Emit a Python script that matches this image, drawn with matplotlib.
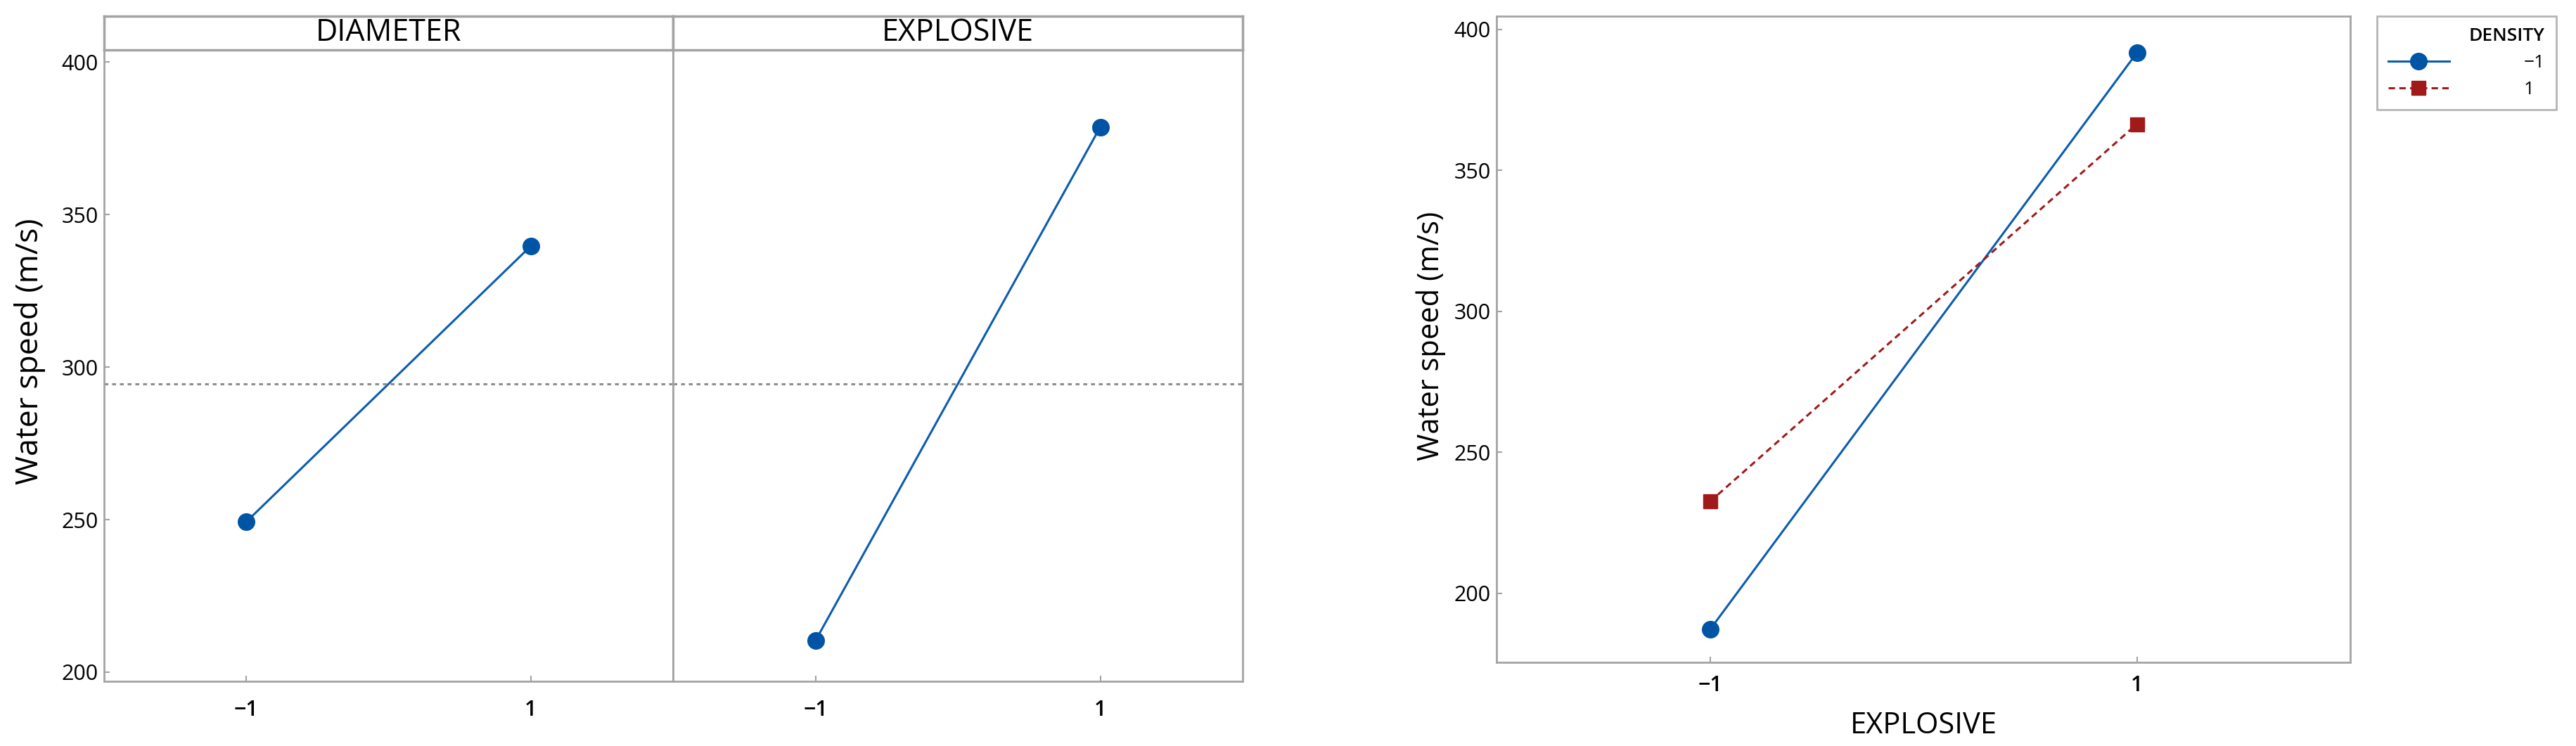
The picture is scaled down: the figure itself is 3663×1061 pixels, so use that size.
import matplotlib
matplotlib.use("Agg")
import matplotlib.pyplot as plt
import numpy as np

plt.rcParams['font.family'] = ['Open Sans', 'DejaVu Sans']

# main effects data (fitted means)
levels = [-1, 1]
level_labels = ["\u22121", "1"]
factors = ["DIAMETER", "EXPLOSIVE"]
diameter_means = [249.3, 339.7]
explosive_means = [210.3, 378.7]

# interaction data (EXPLOSIVE x DENSITY)
density_labels = ["\u22121", "1"]
density_low = [187.1, 391.7]
density_high = [232.5, 366.4]

blue = "#0B5CB0"
blue_mk = "#0054A6"
red = "#A11A1A"
grey = "#A3A3A3"

fig = plt.figure(figsize=(36.63, 10.61), dpi=100)

W, H = 3663.0, 1061.0

def frac(x0, y0, x1, y1):
    # pixel box -> figure fraction rect
    return [x0 / W, 1 - y1 / H, (x1 - x0) / W, (y1 - y0) / H]

def style_axes(ax):
    for s in ax.spines.values():
        s.set_color(grey)
        s.set_linewidth(2)
    ax.tick_params(direction="in", color=grey, width=1.5, length=6,
                   labelsize=22, pad=6)

grand_mean = np.mean(diameter_means + explosive_means)

panel_boxes = [(148, 71, 957, 969), (957, 71, 1767, 969)]
panel_data = [diameter_means, explosive_means]
axes = []
for i, (box, vals, name) in enumerate(zip(panel_boxes, panel_data, factors)):
    ax = fig.add_axes(frac(*box))
    ax.plot(levels, vals, color=blue, lw=2.2, marker="o", ms=17,
            markerfacecolor=blue_mk, markeredgecolor=blue_mk)
    ax.axhline(grand_mean, color="#8E8E8E", lw=2.2, dashes=(1.8, 1.8))
    ax.set_xlim(-2, 2)
    ax.set_ylim(197, 404)
    ax.set_xticks(levels)
    ax.set_xticklabels(level_labels, fontweight="semibold")
    ax.set_yticks([200, 250, 300, 350, 400])
    style_axes(ax)
    ax.tick_params(axis="x", pad=19)
    if i > 0:
        ax.tick_params(axis="y", left=False, labelleft=False)
    # strip header
    sx = fig.add_axes(frac(box[0], 23, box[2], 71))
    sx.set_xticks([])
    sx.set_yticks([])
    for s in sx.spines.values():
        s.set_color(grey)
        s.set_linewidth(2.5)
    sx.text(0.5, 0.5, name, ha="center", va="center", fontsize=31,
            fontweight="medium", transform=sx.transAxes)
    axes.append(ax)

axes[0].set_ylabel("Water speed (m/s)", fontsize=32, va="center")
axes[0].yaxis.set_label_coords(-0.130, 0.522)

# interaction plot
ax2 = fig.add_axes(frac(2128, 23, 3342, 942))
ax2.plot(levels, density_low, color=blue, lw=2.2, marker="o", ms=17,
         markerfacecolor=blue_mk, markeredgecolor=blue_mk, label=density_labels[0])
ax2.plot(levels, density_high, color=red, lw=2.2, dashes=(3, 2), marker="s", ms=15,
         markerfacecolor=red, markeredgecolor=red, label=density_labels[1])
ax2.set_xlim(-2, 2)
ax2.set_ylim(175.5, 404.7)
ax2.set_xticks(levels)
ax2.set_xticklabels(level_labels, fontweight="semibold")
ax2.set_yticks([200, 250, 300, 350, 400])
style_axes(ax2)
ax2.tick_params(axis="x", pad=13)
ax2.set_xlabel("EXPLOSIVE", fontsize=30, labelpad=15)
ax2.set_ylabel("Water speed (m/s)", fontsize=30, va="center")
ax2.yaxis.set_label_coords(-0.0766, 0.505)

leg = fig.legend(loc="upper left", bbox_to_anchor=(3380 / W, 1 - 23 / H),
                 borderaxespad=0, title="DENSITY", alignment="right",
                 fontsize=19, title_fontsize=19, handlelength=3.3,
                 handletextpad=4.0, fancybox=False, frameon=True,
                 borderpad=0.6, labelspacing=0.5)
leg.get_title().set_fontweight("semibold")
leg.get_frame().set_edgecolor(grey)
leg.get_frame().set_linewidth(2)

fig.savefig("out.png", dpi=100)
